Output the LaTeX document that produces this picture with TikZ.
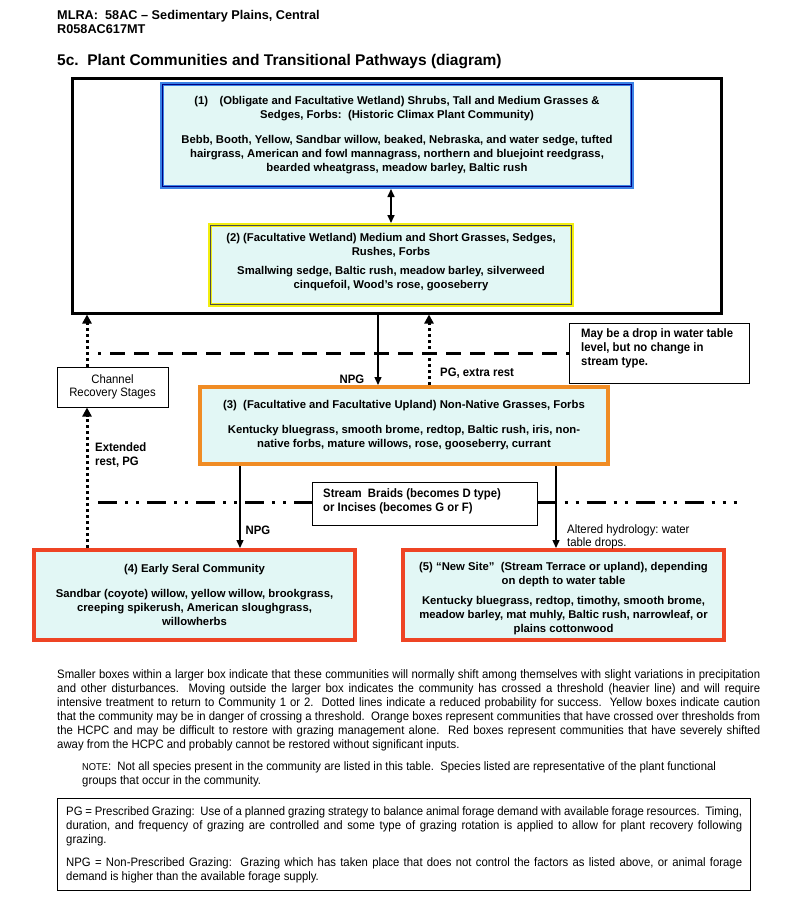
\documentclass[tikz,border=0pt]{standalone}
\usepackage{fontspec}
\setmainfont{Liberation Sans}
\newfontfamily\narrowfont[FakeStretch=0.93]{Liberation Sans}
\usetikzlibrary{arrows.meta}
\definecolor{cfill}{HTML}{E2F7F5}
\definecolor{cblue}{HTML}{3A82E6}
\definecolor{cyell}{HTML}{F2EE10}
\definecolor{corange}{HTML}{F08C24}
\definecolor{cred}{HTML}{EE4424}
\frenchspacing
\tikzset{
  cbox/.style={draw, fill=cfill, line width=4pt, inner sep=0pt, align=center,
    font=\fontsize{11.3}{14}\selectfont\bfseries},
  plainbox/.style={draw, line width=1pt, inner sep=0pt, fill=white},
  lbl/.style={inner sep=0pt, font=\narrowfont\fontsize{12.2}{14}\selectfont\bfseries, align=left},
  lblr/.style={inner sep=0pt, font=\narrowfont\fontsize{12.2}{13.5}\selectfont, align=left},
  arr/.style={line width=1.4pt, -{Triangle[length=8pt,width=7pt]}},
  dblarr/.style={line width=1.6pt, {Triangle[length=8pt,width=7pt]}-{Triangle[length=8pt,width=7pt]}},
  dotarr/.style={line width=3pt, dash pattern=on 3pt off 3pt, -{Triangle[length=9pt,width=9pt]}},
  dashln/.style={line width=3pt, dash pattern=on 15pt off 9pt, dash phase=12pt},
  ddotln/.style={line width=3pt, dash pattern=on 19pt off 8pt on 3pt off 8pt on 3pt off 8pt},
  bodytxt/.style={inner sep=0pt, font=\narrowfont\fontsize{12.2}{14}\selectfont},
}
\begin{document}
\begin{tikzpicture}[x=1pt,y=-1pt]
\useasboundingbox[fill=white] (0,0) rectangle (800,918);
% header
\node[anchor=west, inner sep=0pt, font=\fontsize{12.7}{14.5}\selectfont\bfseries, align=left] (hdr) at (57,22)
  {MLRA:\ \ 58AC -- Sedimentary Plains, Central\\R058AC617MT};
\node[anchor=west, inner sep=0pt, font=\fontsize{15.5}{17}\selectfont\bfseries] (ttl) at (57,62)
  {5c.\ \ Plant Communities and Transitional Pathways (diagram)};
% outer box
\node[draw, line width=3pt, minimum width=649, minimum height=235, inner sep=0pt] (outer) at (396.5,195.5) {};
% box 1
\node[cbox, draw=cblue, minimum width=470, minimum height=103] (b1) at (397,135.5)
  {(1)\quad(Obligate and Facultative Wetland) Shrubs, Tall and Medium Grasses \&\\
   Sedges, Forbs:\ \ (Historic Climax Plant Community)\\[11pt]
   Bebb, Booth, Yellow, Sandbar willow, beaked, Nebraska, and water sedge, tufted\\
   hairgrass, American and fowl mannagrass, northern and bluejoint reedgrass,\\
   bearded wheatgrass, meadow barley, Baltic rush};
\draw[line width=0.5pt, blue!50!black] ([shift={(2.5,2.5)}]b1.north west) rectangle ([shift={(-2.5,-2.5)}]b1.south east);
% box 2
\node[cbox, draw=cyell, minimum width=362, minimum height=80] (b2) at (391,265)
  {(2) (Facultative Wetland) Medium and Short Grasses, Sedges,\\
   Rushes, Forbs\\[5pt]
   Smallwing sedge, Baltic rush, meadow barley, silverweed\\
   cinquefoil, Wood's rose, gooseberry\rule[-7.5pt]{0pt}{7.5pt}};
\draw[line width=0.6pt, black!70] ([shift={(2.5,2.5)}]b2.north west) rectangle ([shift={(-2.5,-2.5)}]b2.south east);
\draw[dblarr] (b2.north) -- (b2.north |- b1.south);
% note box and channel box
\node[plainbox, minimum width=180, minimum height=60] (note) at (659,353) {};
\node[lbl, anchor=north west] (notet) at (581,328)
  {May be a drop in water table\\level, but no change in\\stream type.};
\node[plainbox, minimum width=111, minimum height=40, align=center,
  font=\narrowfont\fontsize{12.2}{13.5}\selectfont] (chan) at (112.5,387) {Channel\\Recovery Stages};
% box 3
\node[cbox, draw=corange, minimum width=408, minimum height=77] (b3) at (404,425.5)
  {(3)\ \ (Facultative and Facultative Upland) Non-Native Grasses, Forbs\\[11pt]
   Kentucky bluegrass, smooth brome, redtop, Baltic rush, iris, non-\\
   native forbs, mature willows, rose, gooseberry, currant};
% stream box
\node[plainbox, minimum width=225, minimum height=43] (stream) at (424.5,503.5) {};
\node[lbl, anchor=north west] (streamt) at (323,488)
  {Stream\ \ Braids (becomes D type)\\or Incises (becomes G or F)};
% boxes 4 and 5
\node[cbox, draw=cred, minimum width=321, minimum height=90] (b4) at (194.5,595)
  {(4) Early Seral Community\\[11pt]
   Sandbar (coyote) willow, yellow willow, brookgrass,\\
   creeping spikerush, American sloughgrass,\\
   willowherbs};
\node[cbox, draw=cred, minimum width=321, minimum height=90] (b5) at (563.5,595)
  {\rule{0pt}{15pt}(5) ``New Site''\ \ (Stream Terrace or upland), depending\\
   on depth to water table\\[6pt]
   Kentucky bluegrass, redtop, timothy, smooth brome,\\
   meadow barley, mat muhly, Baltic rush, narrowleaf, or\\
   plains cottonwood};
% helper coordinates
\coordinate (xl) at (87,0);
\coordinate (xnpg) at (378,0);
\coordinate (xpg) at (429,0);
\coordinate (x4) at (240,0);
\coordinate (x5) at (556,0);
\coordinate (dstart) at (98,353);
\coordinate (ddl) at (98,502);
\coordinate (ddr) at (737,502);
% threshold lines
\draw[dashln] (dstart) -- (note.west);
\draw[ddotln] (ddl) -- (stream.west |- ddl);
\draw[ddotln] (stream.east |- ddr) -- (ddr);
% connectors
\draw[arr] (outer.south -| xnpg) -- (b3.north -| xnpg);
\draw[dotarr] (b3.north -| xpg) -- (outer.south -| xpg);
\draw[dotarr] (chan.north -| xl) -- (outer.south -| xl);
\draw[dotarr] (b4.north -| xl) -- (chan.south -| xl);
\draw[arr] (b3.south -| x4) -- (b4.north -| x4);
\draw[arr] (b3.south -| x5) -- (b5.north -| x5);
% labels
\node[lbl, anchor=center] (lnpg1) at (352,379) {NPG};
\node[lbl, anchor=west] (lpg) at (440,373) {PG, extra rest};
\node[lbl, anchor=north west] (lext) at (95,442) {Extended\\rest, PG};
\node[lbl, anchor=center] (lnpg2) at (258,530) {NPG};
\node[lblr, anchor=north west] (lalt) at (567,524) {Altered hydrology: water\\table drops.};
% explanatory text
\node[bodytxt, anchor=north west, text width=703, align=justify] (para) at (57,669)
  {Smaller boxes within a larger box indicate that these communities will normally shift among themselves with slight variations in precipitation\linebreak
   and other disturbances.\ \ Moving outside the larger box indicates the community has crossed a threshold (heavier line) and will require\linebreak
   intensive treatment to return to Community 1 or 2.\ \ Dotted lines indicate a reduced probability for success.\ \ Yellow boxes indicate caution\linebreak
   that the community may be in danger of crossing a threshold.\ \ Orange boxes represent communities that have crossed over thresholds from\linebreak
   the HCPC and may be difficult to restore with grazing management alone.\ \ Red boxes represent communities that have severely shifted\linebreak
   away from the HCPC and probably cannot be restored without significant inputs.};
\node[bodytxt, anchor=north west, align=left] (notep) at (82,761)
  {{\fontsize{10}{14}\selectfont NOTE}:\ \ Not all species present in the community are listed in this table.\ \ Species listed are representative of the plant functional\\groups that occur in the community.};
\node[draw, line width=1pt, minimum width=693, minimum height=92, inner sep=0pt] (pgbox) at (403.5,844) {};
\node[bodytxt, anchor=north west, text width=676, align=justify] (pgt) at (66,806)
  {PG = Prescribed Grazing:\ \ Use of a planned grazing strategy to balance animal forage demand with available forage resources.\ \ Timing,\linebreak
   duration, and frequency of grazing are controlled and some type of grazing rotation is applied to allow for plant recovery following\linebreak
   grazing.\par\vspace{9pt}
   NPG = Non-Prescribed Grazing:\ \ Grazing which has taken place that does not control the factors as listed above, or animal forage\linebreak
   demand is higher than the available forage supply.};
\end{tikzpicture}
\end{document}
